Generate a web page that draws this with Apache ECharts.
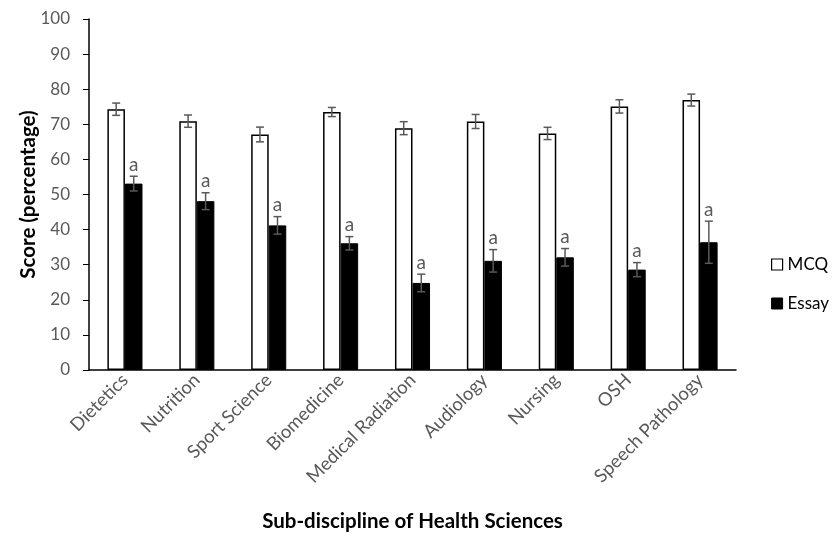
<!DOCTYPE html>
<html>
<head>
<meta charset="utf-8">
<script src="https://cdn.jsdelivr.net/npm/echarts@6/dist/echarts.min.js"></script>
<style>
  html, body { margin: 0; padding: 0; background: #fff; }
  #chart { width: 837px; height: 537px; }
</style>
</head>
<body>
<div id="chart"></div>
<script>
// Scores by sub-discipline, mean with error (±)
const categories = ['Dietetics', 'Nutrition', 'Sport Science', 'Biomedicine', 'Medical Radiation',
  'Audiology', 'Nursing', 'OSH', 'Speech Pathology'];
const mcqValues = [74.3, 70.9, 67.1, 73.5, 68.9, 70.8, 67.4, 75.1, 76.9];
const mcqErrors = [1.75, 1.75, 2.1, 1.3, 1.85, 2.0, 1.75, 1.9, 1.7];
const essayValues = [53.1, 48.1, 41.2, 36.1, 24.8, 31.1, 32.1, 28.6, 36.4];
const essayErrors = [2.1, 2.4, 2.5, 1.9, 2.5, 3.2, 2.5, 2.0, 6.0];
const essayMarks = ['a', 'a', 'a', 'a', 'a', 'a', 'a', 'a', 'a'];
const yTicks = [0, 10, 20, 30, 40, 50, 60, 70, 80, 90, 100];

const FONT = 'Lato, "Open Sans", sans-serif';
const BAR_FRACTION = 0.244;

const errData = [];
categories.forEach((c, i) => {
  errData.push([i, mcqValues[i], mcqErrors[i], 0, '']);
  errData.push([i, essayValues[i], essayErrors[i], 1, essayMarks[i]]);
});

function renderError(params, api) {
  const idx = api.value(0);
  const val = api.value(1);
  const err = api.value(2);
  const which = api.value(3);
  const band = api.size([1, 0])[0];
  const barW = band * BAR_FRACTION;
  const offset = which === 0 ? -barW / 2 : barW / 2;
  const hi = api.coord([idx, val + err]);
  const lo = api.coord([idx, val - err]);
  const x = hi[0] + offset;
  const cap = 4;
  const style = { stroke: '#595959', lineWidth: 1.5 };
  const children = [
    { type: 'line', shape: { x1: x, y1: hi[1], x2: x, y2: lo[1] }, style },
    { type: 'line', shape: { x1: x - cap, y1: hi[1], x2: x + cap, y2: hi[1] }, style },
    { type: 'line', shape: { x1: x - cap, y1: lo[1], x2: x + cap, y2: lo[1] }, style }
  ];
  const mark = errData[params.dataIndex][4];
  if (mark) {
    children.push({
      type: 'text',
      style: {
        text: mark, x: x, y: hi[1] - 2,
        textAlign: 'center', textVerticalAlign: 'bottom',
        fill: '#595959', font: '19px ' + FONT
      }
    });
  }
  return { type: 'group', children };
}

const chart = echarts.init(document.getElementById('chart'), null, { renderer: 'canvas' });
chart.setOption({
  animation: false,
  backgroundColor: '#ffffff',
  grid: { left: 89, right: 101, top: 19, bottom: 166, containLabel: false },
  legend: {
    orient: 'vertical',
    left: 766,
    top: 251,
    padding: 5,
    itemWidth: 11,
    itemHeight: 11,
    itemGap: 22,
    icon: 'rect',
    textStyle: { fontFamily: FONT, fontSize: 17, color: '#000' },
    data: [
      { name: 'MCQ', itemStyle: { color: '#fff', borderColor: '#000', borderWidth: 1.2 } },
      { name: 'Essay', itemStyle: { color: '#000', borderColor: '#000', borderWidth: 1 } }
    ]
  },
  xAxis: {
    type: 'category',
    data: categories,
    name: 'Sub-discipline of Health Sciences',
    nameLocation: 'middle',
    nameGap: 141,
    nameMoveOverlap: false,
    nameTextStyle: { fontFamily: FONT, fontSize: 20.5, fontWeight: 'bold', color: '#000' },
    axisLine: { lineStyle: { color: '#000', width: 1.5 } },
    axisTick: { show: false },
    axisLabel: { rotate: 45, margin: 7, fontFamily: FONT, fontSize: 18.5, color: '#595959' }
  },
  yAxis: {
    type: 'value',
    min: 0, max: 100, interval: 10,
    name: 'Score (percentage)',
    nameLocation: 'middle',
    nameGap: 50,
    nameMoveOverlap: false,
    nameTextStyle: { fontFamily: FONT, fontSize: 20.5, fontWeight: 'bold', color: '#000' },
    axisLine: { show: true, lineStyle: { color: '#000', width: 1.5 } },
    axisTick: { show: true, length: 6, lineStyle: { color: '#000' } },
    splitLine: { show: false },
    axisLabel: {
      margin: 19, fontFamily: FONT, fontSize: 17, color: '#595959',
      formatter: v => (yTicks.indexOf(v) >= 0 ? String(v) : '')
    }
  },
  series: [
    {
      name: 'MCQ', type: 'bar', data: mcqValues,
      barWidth: (BAR_FRACTION * 100) + '%', barGap: '0%',
      itemStyle: { color: '#fff', borderColor: '#000', borderWidth: 1.5 }
    },
    {
      name: 'Essay', type: 'bar', data: essayValues,
      barWidth: (BAR_FRACTION * 100) + '%', barGap: '0%',
      itemStyle: { color: '#000', borderColor: '#000', borderWidth: 1 }
    },
    {
      name: 'err', type: 'custom', data: errData, renderItem: renderError,
      encode: { x: 0, y: 1 }, z: 5, silent: true
    }
  ]
});
</script>
</body>
</html>
